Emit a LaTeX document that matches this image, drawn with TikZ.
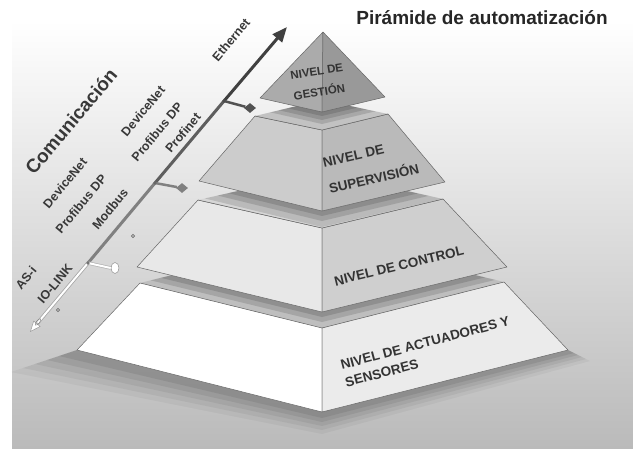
\documentclass[tikz,border=0pt]{standalone}
\usepackage{fontspec}
\setmainfont{Liberation Sans}
\usetikzlibrary{arrows.meta,shapes.geometric,calc}

\tikzset{
  cara/.style={draw=black!60, line width=0.5pt, line join=round},
  sombra/.style={fill=black, opacity=0.13},
  etiqueta/.style={font=\bfseries\fontsize{12.5}{14}\selectfont, text=black!78, rotate=50, inner sep=0pt},
  nivel/.style={font=\bfseries\fontsize{13.5}{15}\selectfont, text=black!80, align=left, inner sep=0pt},
  rombo/.style={diamond, minimum width=12pt, minimum height=10pt, inner sep=0pt},
  punto/.style={circle, draw=black!55, fill=black!30, minimum size=3.5pt, inner sep=0pt},
}

\begin{document}
\begin{tikzpicture}[x=1pt,y=-1pt]
    \useasboundingbox (0,0) rectangle (633,448);
    % fondo
    \fill[white] (0,0) rectangle (633,448);
    \shade[top color=white, bottom color=black!27] (12,20) rectangle (633,448);

    % sombra bajo la base
    \foreach \d/\o in {22/0.04,18/0.05,14/0.06,10/0.07,6/0.08}
      \fill[black, opacity=\o] (77-3*\d,350+\d) -- (77,350) -- (322,412) -- (568,350) -- (568+\d,350+0.5*\d) -- (322,412+\d) -- cycle;

    % nivel de actuadores y sensores
    \fill[black!14] (140,283) -- (322,238) -- (504,282) -- (322,328) -- cycle;
    \filldraw[cara, fill=white] (140,283) -- (322,328) -- (322,412) -- (77,350) -- cycle;
    \filldraw[cara, fill=black!8] (322,328) -- (504,282) -- (568,350) -- (322,412) -- cycle;
    \begin{scope}
      \clip (140,283) -- (322,238) -- (504,282) -- (322,328) -- cycle;
      \foreach \d in {5,10,16}
        \fill[sombra] (137,267) -- (322,312) -- (507,267) -- (507,267+\d) -- (322,312+\d) -- (137,267+\d) -- cycle;
    \end{scope}

    % nivel de control
    \filldraw[cara, fill=black!9] (198,200) -- (322,228) -- (322,312) -- (137,267) -- cycle;
    \filldraw[cara, fill=black!19] (322,228) -- (443,199) -- (507,267) -- (322,312) -- cycle;
    \fill[black!16] (198,200) -- (322,172) -- (443,199) -- (322,228) -- cycle;
    \draw[cara] (198,200) -- (322,228) -- (443,199);
    \begin{scope}
      \clip (198,200) -- (322,172) -- (443,199) -- (322,228) -- cycle;
      \foreach \d in {5,10,16}
        \fill[sombra] (199,181) -- (322,211) -- (445,182) -- (445,182+\d) -- (322,211+\d) -- (199,181+\d) -- cycle;
    \end{scope}

    % nivel de supervision
    \filldraw[cara, fill=black!20] (255,116) -- (322,130) -- (322,211) -- (199,181) -- cycle;
    \filldraw[cara, fill=black!27] (322,130) -- (388,114) -- (445,182) -- (322,211) -- cycle;
    \fill[black!24] (255,116) -- (322,100) -- (388,114) -- (322,130) -- cycle;
    \draw[cara] (255,116) -- (322,130) -- (388,114);
    \begin{scope}
      \clip (255,116) -- (322,100) -- (388,114) -- (322,130) -- cycle;
      \foreach \d in {4,8,12}
        \fill[sombra] (260,98) -- (322,112) -- (385,97) -- (385,97+\d) -- (322,112+\d) -- (260,98+\d) -- cycle;
    \end{scope}

    % nivel de gestion
    \filldraw[cara, fill=black!33] (323,32) -- (260,98) -- (322,112) -- cycle;
    \filldraw[cara, fill=black!40] (323,32) -- (322,112) -- (385,97) -- cycle;

    % textos de los niveles
    \node[nivel, anchor=west, rotate=9, font=\bfseries\fontsize{11.5}{21}\selectfont] (gestion) at (292,86) {NIVEL DE\\GESTI\'ON};
    \node[nivel, anchor=west, rotate=13, font=\bfseries\fontsize{13.5}{27}\selectfont] (supervision) at (326,176) {NIVEL DE\\SUPERVISI\'ON};
    \node[nivel, rotate=13.6] (control) at (399,266) {NIVEL DE CONTROL};
    \node[nivel, anchor=west, rotate=14.8, font=\bfseries\fontsize{13.5}{18}\selectfont] (actuadores) at (343,374) {NIVEL DE ACTUADORES Y\\SENSORES};

    % eje de comunicacion
    \coordinate (tipBajo) at (30,332);
    \coordinate (j1) at (88,263);
    \coordinate (j2) at (155,183);
    \coordinate (j3) at (224,101);
    \coordinate (tipAlto) at (287,27);

    \draw[line width=3pt, black!50] (j1) -- (j2);
    \draw[line width=3pt, black!63] (j2) -- (j3);
    \draw[line width=3pt, black!75, -{Triangle[length=15pt,width=12pt]}] (j3) -- (tipAlto);
    \draw[line width=3.6pt, black!35, shorten >=9pt] (j1) -- (tipBajo);
    \draw[line width=2pt, white, shorten >=8pt] (j1) -- (tipBajo);
    \draw[line width=0.5pt, black!40, -{Triangle[length=11pt,width=9pt,fill=white]}] ($(tipBajo)!12pt!(j1)$) -- (tipBajo);
    \node[ellipse, draw=black!50, minimum width=3pt, minimum height=8pt, inner sep=0pt, rotate=-40] (marca) at (38,322) {};

    % ramas hacia los niveles
    \node[rombo, fill=black!68] (d3) at (250,108) {};
    \draw[line width=2.5pt, black!68] (j3) -- (d3);
    \node[rombo, fill=black!50] (d2) at (182,188) {};
    \draw[line width=2.5pt, black!50] (j2) -- (d2);
    \node[ellipse, draw=black!50, fill=white, minimum width=8pt, minimum height=11pt, inner sep=0pt] (e1) at (115,268) {};
    \draw[line width=3.4pt, black!30] (j1) -- (e1.west);
    \draw[line width=2pt, white] (j1) -- (e1.west);
    \node[punto] (p1) at (133,236) {};
    \node[punto] (p2) at (58,310) {};
    \fill[black!55] (j1) circle (1.8pt);
    \fill[black!60] (j2) circle (1.8pt);
    \fill[black!70] (j3) circle (1.8pt);

    % protocolos
    \node[etiqueta, font=\bfseries\fontsize{19}{20}\selectfont] (comunicacion) at (71,121) {Comunicaci\'on};
    \node[etiqueta] (asi) at (26,278) {AS-i};
    \node[etiqueta] (iolink) at (55,284) {IO-LINK};
    \node[etiqueta] (devicenetA) at (65,183) {DeviceNet};
    \node[etiqueta] (profibusA) at (81,204) {Profibus DP};
    \node[etiqueta] (modbus) at (110,209) {Modbus};
    \node[etiqueta] (devicenetB) at (143,111) {DeviceNet};
    \node[etiqueta] (profibusB) at (157,132) {Profibus DP};
    \node[etiqueta] (profinet) at (183,133) {Profinet};
    \node[etiqueta] (ethernet) at (231,40) {Ethernet};

    % titulo
    \node[font=\bfseries\fontsize{19}{20}\selectfont, text=black!85] (titulo) at (482,18) {Pir\'amide de automatizaci\'on};
\end{tikzpicture}
\end{document}
